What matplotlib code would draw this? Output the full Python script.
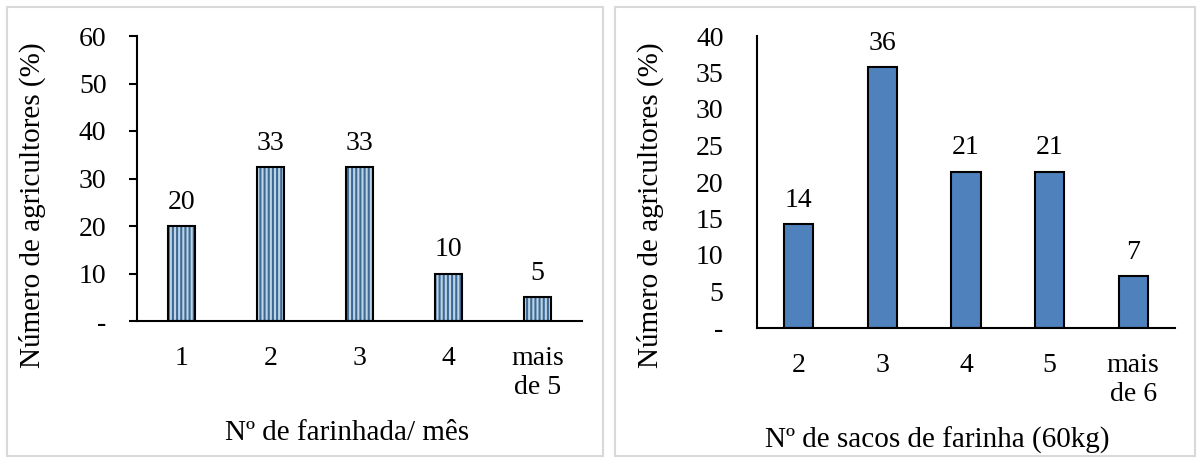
import matplotlib.pyplot as plt
from matplotlib.patches import Rectangle
import numpy as np

plt.rcParams['font.family'] = ['Liberation Serif', 'DejaVu Serif']
plt.rcParams['hatch.linewidth'] = 1.5

# painel esquerdo
cat_esq = ['1', '2', '3', '4', 'mais\nde 5']
val_esq = [20, 32.5, 32.5, 10, 5]
rot_esq = ['20', '33', '33', '10', '5']
yt_esq = [0, 10, 20, 30, 40, 50, 60]
ytl_esq = ['-', '10', '20', '30', '40', '50', '60']

# painel direito
cat_dir = ['2', '3', '4', '5', 'mais\nde 6']
val_dir = [14.29, 35.71, 21.43, 21.43, 7.14]
rot_dir = ['14', '36', '21', '21', '7']
yt_dir = [0, 5, 10, 15, 20, 25, 30, 35, 40]
ytl_dir = ['-', '5', '10', '15', '20', '25', '30', '35', '40']

W, H = 1202, 458
fig = plt.figure(figsize=(W/100, H/100), dpi=100)

# molduras cinza dos dois graficos
for x0, x1 in [(7, 603), (615, 1195)]:
    fig.patches.append(Rectangle((x0/W, 1-456/H), (x1-x0)/W, (456-7)/H,
                                 transform=fig.transFigure, fill=False,
                                 edgecolor='#d9d9d9', linewidth=1.5))

fs = 20
fl = 21

ax1 = fig.add_axes([137/W, 1-321/H, 445/W, (321-36)/H])
x = np.arange(len(cat_esq))
ax1.bar(x, val_esq, width=0.3, color='#bcd4e6', edgecolor='#3d6a95',
        hatch='||||', linewidth=0)
ax1.bar(x, val_esq, width=0.3, fill=False, edgecolor='black', linewidth=1.5)
for xi, v, t in zip(x, val_esq, rot_esq):
    ax1.annotate(t, (xi, v), xytext=(0, 8), textcoords='offset points',
                 ha='center', va='bottom', fontsize=fs)
ax1.set_xlim(-0.5, 4.5)
ax1.set_ylim(0, 60)
ax1.set_yticks(yt_esq)
ax1.set_yticklabels(ytl_esq)
ax1.set_xticks(x)
ax1.set_xticklabels(cat_esq)
ax1.tick_params(axis='y', length=6, width=1.5, pad=16, labelsize=fs)
ax1.tick_params(axis='x', length=0, pad=18, labelsize=fs)
ax1.set_ylabel('Número de agricultores (%)', fontsize=fl, va='center')
ax1.yaxis.set_label_coords((32-137)/445, (321-205)/285)
ax1.set_xlabel('Nº de farinhada/ mês', fontsize=fl, va='center')
ax1.xaxis.set_label_coords((347-137)/445, (321-433)/285)
ax1.spines[['top', 'right']].set_visible(False)
ax1.spines[['left', 'bottom']].set_linewidth(1.5)

ax2 = fig.add_axes([757/W, 1-328/H, 418/W, (328-36)/H])
x = np.arange(len(cat_dir))
ax2.bar(x, val_dir, width=0.35, color='#4f81bd', edgecolor='black',
        linewidth=1.5)
for xi, v, t in zip(x, val_dir, rot_dir):
    ax2.annotate(t, (xi, v), xytext=(0, 8), textcoords='offset points',
                 ha='center', va='bottom', fontsize=fs)
ax2.set_xlim(-0.5, 4.5)
ax2.set_ylim(0, 40)
ax2.set_yticks(yt_dir)
ax2.set_yticklabels(ytl_dir)
ax2.set_xticks(x)
ax2.set_xticklabels(cat_dir)
ax2.tick_params(axis='y', length=0, pad=24, labelsize=fs)
ax2.tick_params(axis='x', length=0, pad=18, labelsize=fs)
ax2.set_ylabel('Número de agricultores (%)', fontsize=fl, va='center')
ax2.yaxis.set_label_coords((650-757)/418, (328-205)/292)
ax2.set_xlabel('Nº de sacos de farinha (60kg)', fontsize=fl, va='center')
ax2.xaxis.set_label_coords((937-757)/418, (328-440)/292)
ax2.spines[['top', 'right']].set_visible(False)
ax2.spines[['left', 'bottom']].set_linewidth(1.5)

fig.savefig('out.png', dpi=100)
